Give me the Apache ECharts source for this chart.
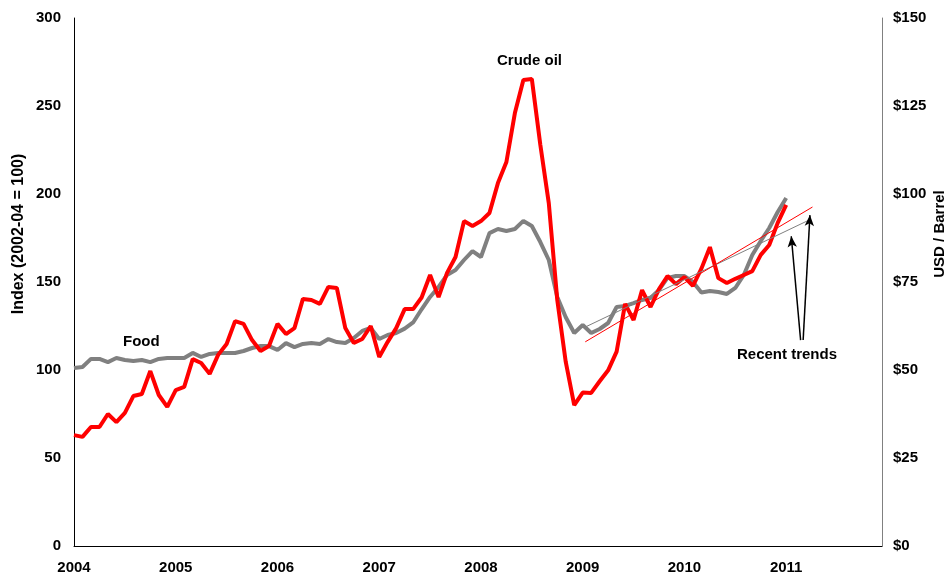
<!DOCTYPE html>
<html>
<head>
<meta charset="utf-8">
<script src="https://cdn.jsdelivr.net/npm/echarts@6/dist/echarts.min.js"></script>
<style>
  html, body { margin: 0; padding: 0; background: #fff; }
  #chart { width: 947px; height: 579px; }
</style>
</head>
<body>
<div id="chart"></div>
<script>
// monthly, Jan 2004 .. Jan 2011 (index 0 = Jan 2004)
const yearTicks = ['2004', '2005', '2006', '2007', '2008', '2009', '2010', '2011'];

// food price index (2002-04 = 100), left axis
const food = [
  101.1, 101.7, 106.3, 106.3, 104.5, 106.8, 105.7, 105.1, 105.7, 104.5, 106.3, 106.8,
  106.8, 106.8, 109.7, 107.4, 109.1, 109.7, 109.7, 109.7, 110.8, 112.5, 113.6, 113.6,
  111.4, 115.3, 113.0, 114.8, 115.3, 114.8, 117.6, 115.9, 115.3, 118.2, 122.2, 123.9,
  117.6, 119.9, 121.0, 123.5, 127.0, 134.5, 141.5, 147.2, 154.0, 156.8, 162.5, 167.6,
  164.2, 177.8, 180.1, 179.0, 180.1, 184.7, 181.8, 172.7, 162.5, 141.5, 130.0, 121.0,
  125.6, 121.0, 123.3, 126.7, 135.8, 136.4, 138.0, 139.8, 140.9, 145.5, 152.3, 153.4,
  153.4, 150.0, 144.0, 144.9, 144.3, 143.2, 146.6, 154.0, 165.3, 173.3, 180.7, 189.8,
  197.7
];

// crude oil, USD / barrel, right axis
const oil = [
  31.5, 31.0, 33.8, 33.8, 37.5, 35.2, 37.8, 42.6, 43.2, 49.7, 42.9, 39.5,
  44.3, 45.2, 53.1, 52.0, 48.9, 54.3, 57.4, 63.9, 63.1, 58.5, 55.4, 56.8,
  63.1, 60.2, 61.9, 70.2, 69.9, 68.8, 73.6, 73.3, 61.9, 57.7, 58.8, 62.5,
  53.7, 58.0, 61.9, 67.3, 67.3, 70.6, 77.0, 70.7, 77.6, 82.1, 92.3, 90.9,
  92.3, 94.6, 103.1, 109.1, 123.0, 132.4, 132.7, 114.0, 97.4, 69.9, 52.3, 40.0,
  43.6, 43.5, 46.8, 49.9, 55.2, 68.8, 64.2, 72.7, 67.9, 73.0, 76.7, 74.4,
  76.4, 73.9, 78.8, 84.9, 76.1, 74.7, 75.9, 77.0, 78.1, 82.7, 85.5, 91.8,
  96.9
];

// recent trend lines (month index, value)
const foodTrend = [[60.3, 124.4], [86.7, 185.2]];
const oilTrend = [[60.3, 58.0], [87.1, 96.3]];

// arrows from the "Recent trends" label (month index, index value)
const trendArrows = [
  [[85.7, 117], [84.6, 176]],
  [[86.0, 117], [86.8, 188]]
];

const FONT = "'Liberation Sans', Arial, sans-serif";
const BOLD15 = "bold 15px 'Liberation Sans', Arial";
const toPairs = (arr) => arr.map((v, i) => [i, v]);

const chart = echarts.init(document.getElementById('chart'));

const option = {
  animation: false,
  backgroundColor: '#fff',
  grid: { left: 74, right: 65, top: 18, bottom: 33, outerBoundsMode: 'none' },
  textStyle: { fontFamily: FONT },
  xAxis: {
    type: 'value',
    min: 0,
    max: 95.3,
    interval: 12,
    splitLine: { show: false },
    axisTick: { show: false },
    axisLine: { lineStyle: { color: '#000', width: 1 } },
    axisLabel: {
      margin: 14,
      fontSize: 15,
      fontWeight: 'bold',
      color: '#000',
      fontFamily: FONT,
      showMaxLabel: false,
      formatter: (v) => (v % 12 === 0 ? yearTicks[v / 12] || '' : '')
    }
  },
  yAxis: [
    {
      type: 'value',
      min: 0,
      max: 300,
      interval: 50,
      splitLine: { show: false },
      axisTick: { show: false },
      axisLine: { show: true, lineStyle: { color: '#000', width: 1 } },
      axisLabel: { margin: 13, fontSize: 15, fontWeight: 'bold', color: '#000', fontFamily: FONT }
    },
    {
      type: 'value',
      position: 'right',
      min: 0,
      max: 150,
      interval: 25,
      splitLine: { show: false },
      axisTick: { show: false },
      axisLine: { show: true, lineStyle: { color: '#808080', width: 1 } },
      axisLabel: {
        margin: 11,
        fontSize: 15,
        fontWeight: 'bold',
        color: '#000',
        fontFamily: FONT,
        formatter: (v) => '$' + v
      }
    }
  ],
  series: [
    {
      name: 'Food',
      type: 'line',
      yAxisIndex: 0,
      data: toPairs(food),
      showSymbol: false,
      lineStyle: { color: '#808080', width: 4 },
      z: 2
    },
    {
      name: 'Crude oil',
      type: 'line',
      yAxisIndex: 1,
      data: toPairs(oil),
      showSymbol: false,
      lineStyle: { color: '#ff0000', width: 4 },
      z: 3
    },
    {
      name: 'Food trend',
      type: 'line',
      yAxisIndex: 0,
      data: foodTrend,
      showSymbol: false,
      lineStyle: { color: '#808080', width: 1 },
      z: 4,
      markLine: {
        silent: true,
        symbol: ['none', 'arrow'],
        symbolSize: [7, 11],
        label: { show: false },
        lineStyle: { color: '#000', width: 1.5, type: 'solid' },
        data: trendArrows.map(([a, b]) => [{ coord: a }, { coord: b }])
      }
    },
    {
      name: 'Oil trend',
      type: 'line',
      yAxisIndex: 1,
      data: oilTrend,
      showSymbol: false,
      lineStyle: { color: '#ff0000', width: 1 },
      z: 4
    }
  ],
  graphic: [
    // axis titles
    {
      type: 'text', x: 19, y: 234, rotation: Math.PI / 2,
      style: { text: 'Index (2002-04 = 100)', font: "bold 16px 'Liberation Sans', Arial",
        fill: '#000', align: 'center', verticalAlign: 'middle' }
    },
    {
      type: 'text', x: 940, y: 234, rotation: Math.PI / 2,
      style: { text: 'USD / Barrel', font: BOLD15,
        fill: '#000', align: 'center', verticalAlign: 'middle' }
    },
    // annotations
    {
      type: 'text', left: 123, top: 334,
      style: { text: 'Food', font: BOLD15, fill: '#000' }
    },
    {
      type: 'text', left: 497, top: 53,
      style: { text: 'Crude oil', font: BOLD15, fill: '#000' }
    },
    {
      type: 'text', left: 737, top: 347,
      style: { text: 'Recent trends', font: BOLD15, fill: '#000' }
    }
  ]
};

chart.setOption(option);
</script>
</body>
</html>
